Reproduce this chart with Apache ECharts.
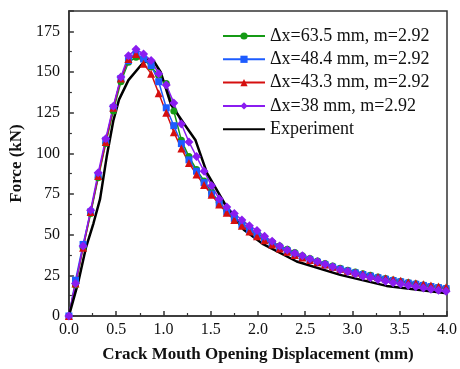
<!DOCTYPE html>
<html><head><meta charset="utf-8">
<script src="https://cdn.jsdelivr.net/npm/echarts@6/dist/echarts.min.js"></script>
<style>html,body{margin:0;padding:0;background:#fff}#c{width:460px;height:369px}</style>
</head><body><div id="c"></div>
<script>
var simX = [0, 0.07, 0.15, 0.23, 0.31, 0.39, 0.47, 0.55, 0.63, 0.71, 0.79, 0.87, 0.95, 1.03, 1.11, 1.19, 1.27, 1.35, 1.43, 1.51, 1.59, 1.67, 1.75, 1.83, 1.91, 1.99, 2.07, 2.15, 2.23, 2.31, 2.39, 2.47, 2.55, 2.63, 2.71, 2.79, 2.87, 2.95, 3.03, 3.11, 3.19, 3.27, 3.35, 3.43, 3.51, 3.59, 3.67, 3.75, 3.83, 3.91, 3.99];
var dx635 = [0, 19, 42, 63, 85, 106, 126, 144, 156, 159, 158, 153, 148, 143, 126, 108, 98, 90, 83, 76, 70, 65, 61, 57, 54, 51, 48, 45.5, 43, 41, 39, 37, 35.3, 33.8, 32.2, 30.8, 29.4, 28.2, 27, 26, 25, 24, 23, 22.2, 21.4, 20.6, 19.8, 19, 18.3, 17.6, 17];
var dx484 = [0, 22, 44, 64, 86, 108, 128, 146, 157, 161, 158, 154, 144, 128, 117, 106, 96, 89, 82, 75, 69, 64, 60, 56, 53, 50, 47, 44.5, 42, 40, 38, 36, 34.5, 33, 31.5, 30, 28.8, 27.6, 26.5, 25.5, 24.5, 23.5, 22.6, 21.8, 21, 20.2, 19.5, 18.8, 18.1, 17.4, 16.8];
var dx433 = [0, 20, 42, 64, 86, 107, 128, 146, 158, 161, 155, 149, 137, 125, 113, 103, 94, 87, 80.5, 74.5, 68.5, 63.5, 59, 55.5, 52, 49, 46.5, 44, 41.5, 39.5, 37.5, 36, 34.5, 33, 31.6, 30.2, 29, 27.8, 26.8, 25.8, 24.8, 24, 23.2, 22.4, 21.6, 20.8, 20.2, 19.5, 18.8, 18.2, 17.6];
var dx38 = [0, 20, 43, 65, 88, 109, 129, 147, 160, 164, 161, 157, 149, 142, 131, 118, 107, 98, 89, 80, 72, 67, 63, 59, 55.5, 52.5, 49, 46, 43, 40.5, 38.5, 37, 35, 33.5, 31.8, 30.2, 28.5, 27.3, 26, 24.5, 23.5, 22.5, 21.3, 20.5, 19.7, 18.8, 18, 17.2, 16.5, 15.8, 15.2];
var expX = [0, 0.1, 0.18, 0.26, 0.33, 0.4, 0.47, 0.53, 0.63, 0.76, 0.83, 0.9, 0.97, 1.02, 1.08, 1.22, 1.34, 1.46, 1.67, 1.85, 2.06, 2.41, 2.87, 3.36, 4.0];
var expF = [0, 21, 42, 57, 72, 98, 120, 133, 145, 154, 157.5, 156.5, 150, 141, 130, 118, 108, 88, 67, 53, 44, 33.5, 25.3, 18.5, 14];
var yTicks = [0, 25, 50, 75, 100, 125, 150, 175];
var xTicks = [0, 0.5, 1.0, 1.5, 2.0, 2.5, 3.0, 3.5, 4.0];
var names = ['\u0394x=63.5 mm, m=2.92', '\u0394x=48.4 mm, m=2.92', '\u0394x=43.3 mm, m=2.92', '\u0394x=38 mm, m=2.92', 'Experiment'];

function pairs(xs, ys){ return xs.map(function(x,i){return [x, ys[i]];}); }
var font = 'Liberation Serif';
var chart = echarts.init(document.getElementById('c'), null, {renderer:'canvas'});
function sim(name, data, color, symbol, size){
  return {name:name, type:'line', data:pairs(simX, data), symbol:symbol, symbolSize:size,
    showAllSymbol:true, itemStyle:{color:color}, lineStyle:{color:color, width:1.5}, animation:false};
}
chart.setOption({
  animation:false,
  grid:{left:68, right:13, top:11, bottom:53, show:true, borderColor:'#333', borderWidth:1.5, containLabel:false},
  legend:{orient:'vertical', left:222, top:27, padding:0, itemWidth:42, itemHeight:9, itemGap:5.3,
    textStyle:{fontFamily:font, fontSize:18, color:'#111'},
    data:[names[0], names[1], names[2], names[3], {name:names[4], itemStyle:{opacity:0}}]},
  xAxis:{type:'value', min:0, max:4, interval:0.5,
    axisLine:{show:true, lineStyle:{color:'#333', width:1.5}},
    axisTick:{show:true, inside:true, length:5, lineStyle:{color:'#333', width:1.5}},
    minorTick:{show:true, splitNumber:2, length:3, lineStyle:{color:'#333', width:1.2}},
    splitLine:{show:false},
    axisLabel:{fontFamily:font, fontSize:16, color:'#111', margin:6, formatter:function(v){return xTicks.indexOf(v)>=0? v.toFixed(1):'';}},
    name:'Crack Mouth Opening Displacement (mm)', nameLocation:'middle', nameGap:30,
    nameTextStyle:{fontFamily:font, fontSize:17, fontWeight:'bold', color:'#111'}},
  yAxis:{type:'value', min:0, max:187.5, interval:25,
    axisLine:{show:true, lineStyle:{color:'#333', width:1.5}},
    axisTick:{show:true, inside:true, length:5, lineStyle:{color:'#333', width:1.5}},
    minorTick:{show:true, splitNumber:2, length:3, lineStyle:{color:'#333', width:1.2}},
    splitLine:{show:false},
    axisLabel:{fontFamily:font, fontSize:16, color:'#111', margin:9, showMaxLabel:false, formatter:function(v){return yTicks.indexOf(v)>=0? String(v):'';}},
    name:'Force (kN)', nameLocation:'middle', nameGap:42, nameRotate:90,
    nameTextStyle:{fontFamily:font, fontSize:17, fontWeight:'bold', color:'#111'}},
  series:[
    sim(names[0], dx635, '#159a15', 'circle', 7),
    sim(names[1], dx484, '#1d5cff', 'rect', 7),
    sim(names[2], dx433, '#d50f0f', 'triangle', 8),
    sim(names[3], dx38, '#8a1cf0', 'diamond', 9),
    {name:names[4], type:'line', data:pairs(expX, expF), symbol:'none', showSymbol:false,
      itemStyle:{color:'#000'}, lineStyle:{color:'#000', width:2.5}, animation:false}
  ]
});
</script></body></html>
